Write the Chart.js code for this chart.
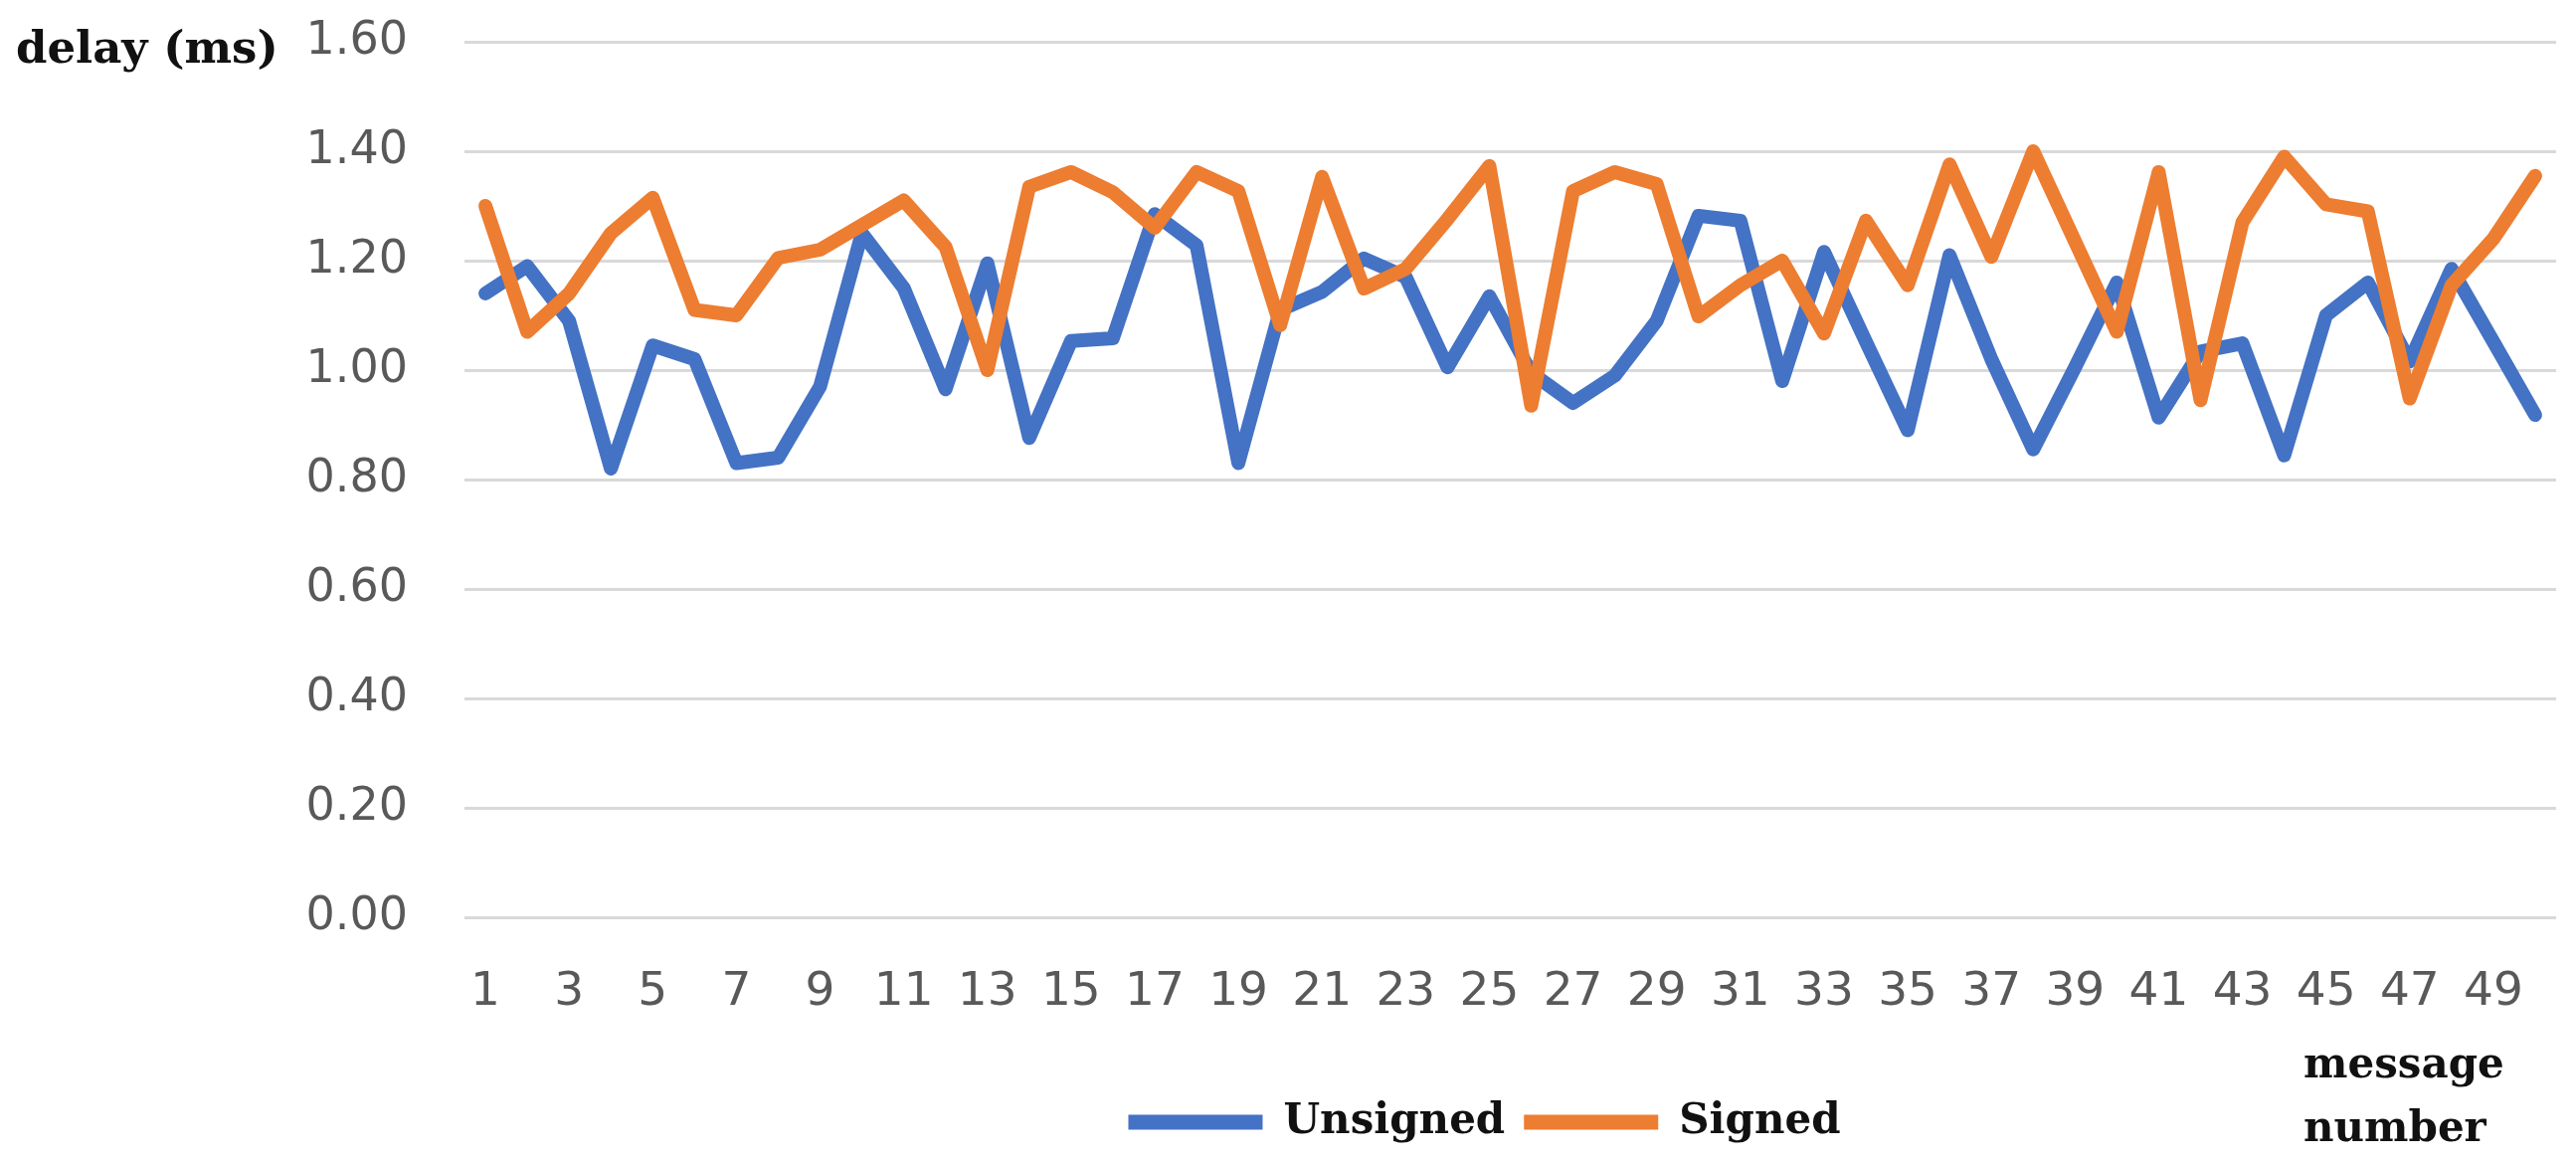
<!DOCTYPE html>
<html>
<head>
<meta charset="utf-8">
<script src="https://cdn.jsdelivr.net/npm/chart.js@4.4.1/dist/chart.umd.min.js"></script>
<style>
  html, body { margin: 0; padding: 0; background: #ffffff; }
  #wrap { width: 2590px; height: 1168px; position: relative; }
</style>
</head>
<body>
<div id="wrap"><canvas id="c" width="2590" height="1168"></canvas></div>
<script>
const categories = Array.from({length: 50}, (_, i) => String(i + 1));
const unsignedDelay = [1.14, 1.19, 1.09, 0.82, 1.045, 1.02, 0.83, 0.84, 0.97, 1.25,
  1.15, 0.965, 1.195, 0.876, 1.053, 1.058, 1.285, 1.228, 0.83, 1.11,
  1.143, 1.204, 1.17, 1.005, 1.135, 0.995, 0.94, 0.99, 1.09, 1.282,
  1.273, 0.98, 1.216, 1.052, 0.89, 1.21, 1.02, 0.855, 1.005, 1.16,
  0.913, 1.034, 1.049, 0.844, 1.10, 1.16, 1.016, 1.185, 1.052, 0.918];
const signedDelay = [1.30, 1.07, 1.14, 1.25, 1.315, 1.11, 1.10, 1.205, 1.22, 1.265,
  1.31, 1.225, 1.00, 1.335, 1.362, 1.325, 1.26, 1.362, 1.327, 1.082,
  1.353, 1.149, 1.185, 1.276, 1.373, 0.935, 1.327, 1.362, 1.34, 1.098,
  1.155, 1.20, 1.067, 1.273, 1.155, 1.376, 1.207, 1.40, 1.235, 1.07,
  1.362, 0.945, 1.27, 1.39, 1.303, 1.29, 0.948, 1.155, 1.24, 1.355];
const seriesNames = ['Unsigned', 'Signed'];
const yTickMin = 0, yTickMax = 1.6, yTickStep = 0.2;
const yAxisTitle = 'delay (ms)';
const xAxisTitle = ['message', 'number'];

const BLUE = '#4472C4';
const ORANGE = '#ED7D31';

const titlesPlugin = {
  id: 'titles',
  afterLayout(chart) {
    const lg = chart.legend;
    if (lg) { lg.left -= 26; lg.right -= 26; }
  },
  afterDraw(chart) {
    const ctx = chart.ctx;
    ctx.save();
    ctx.fillStyle = '#111111';
    ctx.font = 'bold 45px "DejaVu Serif"';
    ctx.textAlign = 'left';
    ctx.textBaseline = 'alphabetic';
    ctx.fillText(yAxisTitle, 16, 63);
    ctx.font = 'bold 42px "DejaVu Serif"';
    ctx.fillText(xAxisTitle[0], 2316, 1083);
    ctx.fillText(xAxisTitle[1], 2316, 1147);
    ctx.restore();
  }
};

new Chart(document.getElementById('c'), {
  type: 'line',
  data: {
    labels: categories,
    datasets: [
      { label: seriesNames[0], data: unsignedDelay, borderColor: BLUE, backgroundColor: BLUE,
        borderWidth: 14, pointRadius: 0, tension: 0, borderJoinStyle: 'round', borderCapStyle: 'round', order: 1 },
      { label: seriesNames[1], data: signedDelay, borderColor: ORANGE, backgroundColor: ORANGE,
        borderWidth: 14, pointRadius: 0, tension: 0, borderJoinStyle: 'round', borderCapStyle: 'round', order: 0 }
    ]
  },
  options: {
    responsive: false,
    animation: false,
    devicePixelRatio: 1,
    layout: { padding: { left: 0, right: 20, top: 42, bottom: 9 } },
    plugins: {
      tooltip: { enabled: false },
      legend: {
        position: 'bottom',
        align: 'center',
        fullSize: false,
        labels: {
          boxWidth: 135,
          boxHeight: 15,
          padding: 19,
          color: '#111111',
          font: { family: '"DejaVu Serif"', size: 42, weight: 'bold' },
          generateLabels: (chart) => Chart.defaults.plugins.legend.labels.generateLabels(chart)
            .sort((a, b) => a.datasetIndex - b.datasetIndex)
            .map(l => Object.assign(l, { lineWidth: 0, fillStyle: l.strokeStyle }))
        }
      }
    },
    scales: {
      x: {
        type: 'category',
        offset: true,
        grid: { display: false, drawTicks: true, tickLength: 48, tickColor: 'rgba(0,0,0,0)' },
        border: { display: false },
        ticks: {
          autoSkip: false,
          maxRotation: 0,
          minRotation: 0,
          padding: 0,
          color: '#595959',
          font: { family: '"DejaVu Sans"', size: 47 },
          callback: function(v, i) { return i % 2 === 0 ? categories[i] : ''; }
        },
        afterFit(scale) { scale.height = 166; }
      },
      y: {
        min: yTickMin,
        max: yTickMax,
        border: { display: false },
        grid: { color: '#d9d9d9', lineWidth: 3, drawTicks: true, tickLength: 57, tickColor: 'rgba(0,0,0,0)' },
        ticks: {
          stepSize: yTickStep,
          padding: 0,
          color: '#595959',
          font: { family: '"DejaVu Sans"', size: 46 },
          callback: (v) => Number(v).toFixed(2)
        },
        afterFit(scale) { scale.width = 467; }
      }
    }
  },
  plugins: [titlesPlugin]
});
</script>
</body>
</html>
